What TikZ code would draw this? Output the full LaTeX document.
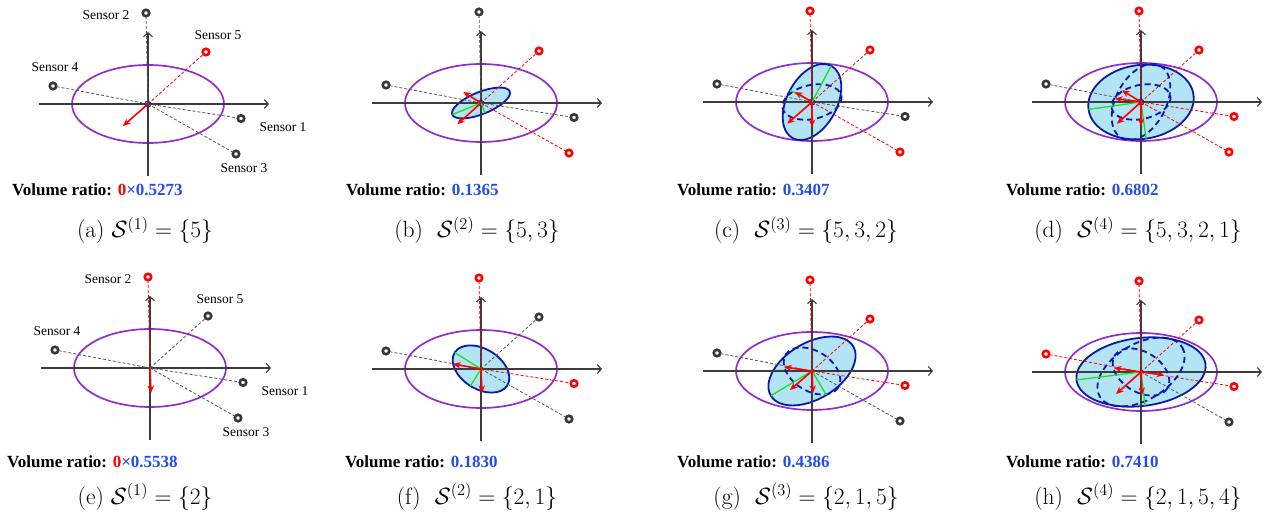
\RequirePackage{fix-cm}
\documentclass[tikz,border=0pt]{standalone}
\usepackage{fontspec}
\newfontfamily\tnr{Liberation Serif}
\usetikzlibrary{arrows.meta,calc}
\definecolor{purp}{RGB}{145,45,205}
\definecolor{axgray}{RGB}{60,60,60}
\definecolor{sgray}{RGB}{55,55,55}
\definecolor{sred}{RGB}{255,0,0}
\definecolor{dblue}{RGB}{10,25,170}
\definecolor{lblue}{RGB}{178,228,246}
\definecolor{grn}{RGB}{30,225,30}
\definecolor{nblue}{RGB}{35,75,235}
\tikzset{
 purpell/.style={draw=purp, line width=1.7pt},
 axisline/.style={draw=axgray, line width=1.1pt, -{Straight Barb[length=4pt,width=9pt]}},
 sens/.style={circle, line width=2.6pt, fill=white, inner sep=0pt, minimum size=6.5pt},
 gsens/.style={sens, draw=sgray},
 rsens/.style={sens, draw=sred},
 gline/.style={draw=sgray!85, line width=0.8pt, dash pattern=on 3pt off 2pt},
 rline/.style={draw=sred, line width=0.8pt, dash pattern=on 3pt off 2pt},
 fillell/.style={draw=dblue, fill=lblue, line width=1.8pt},
 dashell/.style={draw=dblue, line width=1.8pt, dash pattern=on 6pt off 4pt},
 grnline/.style={draw=grn, line width=1.3pt},
 redarr/.style={draw=sred, line width=1.6pt, -{Stealth[length=7.5pt,width=6.5pt]}},
 oring/.style={circle, draw=dblue, line width=1.1pt, dash pattern=on 2pt off 1pt, minimum size=6pt, inner sep=0pt},
 slabel/.style={font=\tnr\fontsize{13.5}{15}\selectfont, inner sep=0pt},
 vr/.style={font=\tnr\bfseries\fontsize{17}{20}\selectfont, anchor=base west, inner sep=0pt},
 captxt/.style={font=\fontsize{23.5}{28}\selectfont, anchor=base, inner sep=0pt},
}
\newcommand\paxes[6]{%
  \coordinate (#1o) at (0,0);
  \coordinate (#1xl) at (-109,0);
  \coordinate (#1xr) at (121,0);
  \coordinate (#1yb) at (0,72);
  \coordinate (#1yt) at (0,-72);
  \draw[axisline] (#1xl) -- (#1xr);
  \draw[axisline] (#1yb) -- (#1yt);
  \node[#2sens] (#1s1) at (93,14.5) {};
  \node[#3sens] (#1s2) at (-2,-91) {};
  \node[#4sens] (#1s3) at (88,50) {};
  \node[#5sens] (#1s4) at (-95,-18) {};
  \node[#6sens] (#1s5) at (58,-52) {};
  \draw[#2line] (#1o) -- (#1s1);
  \draw[#3line] (#1o) -- (#1s2);
  \draw[#4line] (#1o) -- (#1s3);
  \draw[#5line] (#1o) -- (#1s4);
  \draw[#6line] (#1o) -- (#1s5);
}
\newcommand\slabels[1]{%
  \node[slabel] (#1l1) at (135,23) {Sensor 1};
  \node[slabel] (#1l2) at (-42,-89) {Sensor 2};
  \node[slabel] (#1l3) at (96,64) {Sensor 3};
  \node[slabel] (#1l4) at (-93,-37) {Sensor 4};
  \node[slabel] (#1l5) at (70,-69) {Sensor 5};
}
\begin{document}
\begin{tikzpicture}[x=1pt,y=-1pt]
\useasboundingbox (0,0) rectangle (1267,513);
% ---------- (a)
\begin{scope}[shift={(148,104)}]
  \draw[purpell] (0,0) ellipse [x radius=76, y radius=39];
  \paxes{a}{g}{g}{g}{g}{r}
  \node[oring] (aring) at (ao) {};
  \coordinate (aa1) at (-25,22);
  \draw[redarr] (ao) -- (aa1);
  \slabels{a}
\end{scope}
% ---------- (b)
\begin{scope}[shift={(481,103)}]
  \draw[purpell] (0,0) ellipse [x radius=76, y radius=39];
  \draw[fillell, rotate=22] (0,0) ellipse [x radius=31, y radius=11];
  \paxes{b}{g}{g}{r}{g}{r}
  \node[oring] (bring) at (bo) {};
  \coordinate (bg1) at (-28.7,11.6);
  \coordinate (bg2) at (4.1,10.2);
  \draw[grnline] (bo) -- (bg1);
  \draw[grnline] (bo) -- (bg2);
  \coordinate (ba1) at (-17.7,-11);
  \coordinate (ba2) at (-23.7,21.3);
  \draw[redarr] (bo) -- (ba1);
  \draw[redarr] (bo) -- (ba2);
\end{scope}
% ---------- (c)
\begin{scope}[shift={(812,102)}]
  \draw[purpell] (0,0) ellipse [x radius=76, y radius=39];
  \draw[fillell, rotate=62] (0,0) ellipse [x radius=41, y radius=25];
  \paxes{c}{g}{r}{r}{g}{r}
  \draw[dashell, rotate=12] (0,0) ellipse [x radius=30, y radius=17];
  \node[oring] (cring) at (co) {};
  \coordinate (cg1) at (19.2,-36.2);
  \coordinate (cg2) at (-22.1,-11.7);
  \draw[grnline] (co) -- (cg1);
  \draw[grnline] (co) -- (cg2);
  \coordinate (ca1) at (-17,-10);
  \coordinate (ca2) at (-24.7,21.7);
  \coordinate (ca3) at (0,25);
  \draw[redarr] (co) -- (ca1);
  \draw[redarr] (co) -- (ca2);
  \draw[redarr] (co) -- (ca3);
\end{scope}
% ---------- (d)
\begin{scope}[shift={(1141,102)}]
  \draw[purpell] (0,0) ellipse [x radius=76, y radius=39];
  \draw[fillell, rotate=8] (0,0) ellipse [x radius=53, y radius=37];
  \paxes{d}{r}{r}{r}{g}{r}
  \draw[dashell, rotate=62] (0,0) ellipse [x radius=41, y radius=25];
  \draw[dashell, rotate=12] (0,0) ellipse [x radius=30, y radius=17];
  \node[oring] (dring) at (do) {};
  \coordinate (dg1) at (-52.5,7.4);
  \coordinate (dg2) at (5.1,36.6);
  \draw[grnline] (do) -- (dg1);
  \draw[grnline] (do) -- (dg2);
  \coordinate (da1) at (-19,-11.7);
  \coordinate (da2) at (-26,-3.3);
  \coordinate (da3) at (-24,21.7);
  \coordinate (da4) at (0,24);
  \draw[redarr] (do) -- (da1);
  \draw[redarr] (do) -- (da2);
  \draw[redarr] (do) -- (da3);
  \draw[redarr] (do) -- (da4);
\end{scope}
% ---------- (e)
\begin{scope}[shift={(150,368)}]
  \draw[purpell] (0,0) ellipse [x radius=76, y radius=39];
  \paxes{e}{g}{r}{g}{g}{g}
  \coordinate (ea1) at (1,25);
  \draw[redarr] (eo) -- (ea1);
  \slabels{e}
\end{scope}
% ---------- (f)
\begin{scope}[shift={(481,369)}]
  \draw[purpell] (0,0) ellipse [x radius=76, y radius=39];
  \draw[fillell, rotate=-32] (0,0) ellipse [x radius=31, y radius=20];
  \paxes{f}{r}{r}{g}{g}{g}
  \coordinate (fg1) at (-26.3,-16.4);
  \coordinate (fg2) at (-10.6,17.0);
  \draw[grnline] (fo) -- (fg1);
  \draw[grnline] (fo) -- (fg2);
  \coordinate (fa1) at (-28,-5);
  \coordinate (fa2) at (1,24);
  \draw[redarr] (fo) -- (fa1);
  \draw[redarr] (fo) -- (fa2);
\end{scope}
% ---------- (g)
\begin{scope}[shift={(812,371)}]
  \draw[purpell] (0,0) ellipse [x radius=76, y radius=39];
  \draw[fillell, rotate=31] (0,0) ellipse [x radius=48, y radius=28];
  \paxes{g}{r}{r}{g}{g}{r}
  \draw[dashell, rotate=-32] (0,0) ellipse [x radius=31, y radius=20];
  \coordinate (gg1) at (-41.1,24.7);
  \coordinate (gg2) at (14.4,24.0);
  \draw[grnline] (go) -- (gg1);
  \draw[grnline] (go) -- (gg2);
  \coordinate (ga1) at (-28,-4);
  \coordinate (ga2) at (-22,19);
  \coordinate (ga3) at (1,22);
  \draw[redarr] (go) -- (ga1);
  \draw[redarr] (go) -- (ga2);
  \draw[redarr] (go) -- (ga3);
\end{scope}
% ---------- (h)
\begin{scope}[shift={(1141,372)}]
  \draw[purpell] (0,0) ellipse [x radius=76, y radius=39];
  \draw[fillell, rotate=7] (0,0) ellipse [x radius=65, y radius=34];
  \paxes{h}{r}{r}{g}{r}{r}
  \draw[dashell, rotate=31] (0,0) ellipse [x radius=48, y radius=28];
  \draw[dashell, rotate=-32] (0,0) ellipse [x radius=31, y radius=20];
  \coordinate (hg1) at (-64.5,7.9);
  \coordinate (hg2) at (4.1,33.7);
  \draw[grnline] (ho) -- (hg1);
  \draw[grnline] (ho) -- (hg2);
  \coordinate (ha1) at (-27,-4);
  \coordinate (ha2) at (23,3);
  \coordinate (ha3) at (-25,22);
  \coordinate (ha4) at (1,23);
  \draw[redarr] (ho) -- (ha1);
  \draw[redarr] (ho) -- (ha2);
  \draw[redarr] (ho) -- (ha3);
  \draw[redarr] (ho) -- (ha4);
\end{scope}
% ---------- volume ratio texts
\node[vr] (vra) at (12,196) {Volume ratio: \textcolor{sred}{0}\textcolor{nblue}{×0.5273}};
\node[vr] (vrb) at (346,196) {Volume ratio: \textcolor{nblue}{0.1365}};
\node[vr] (vrc) at (677,196) {Volume ratio: \textcolor{nblue}{0.3407}};
\node[vr] (vrd) at (1006,196) {Volume ratio: \textcolor{nblue}{0.6802}};
\node[vr] (vre) at (7,467) {Volume ratio: \textcolor{sred}{0}\textcolor{nblue}{×0.5538}};
\node[vr] (vrf) at (345,467) {Volume ratio: \textcolor{nblue}{0.1830}};
\node[vr] (vrg) at (677,467) {Volume ratio: \textcolor{nblue}{0.4386}};
\node[vr] (vrh) at (1006,467) {Volume ratio: \textcolor{nblue}{0.7410}};
% ---------- captions
\node[captxt] (capa) at (145,238) {(a) $\mathcal{S}^{(1)}=\{5\}$};
\node[captxt] (capb) at (477,238) {(b)\ \ $\mathcal{S}^{(2)}=\{5,3\}$};
\node[captxt] (capc) at (806,238) {(c)\ \ $\mathcal{S}^{(3)}=\{5,3,2\}$};
\node[captxt] (capd) at (1138,238) {(d)\ \ $\mathcal{S}^{(4)}=\{5,3,2,1\}$};
\node[captxt] (cape) at (145,504) {(e) $\mathcal{S}^{(1)}=\{2\}$};
\node[captxt] (capf) at (477,504) {(f)\ \ $\mathcal{S}^{(2)}=\{2,1\}$};
\node[captxt] (capg) at (806,504) {(g)\ \ $\mathcal{S}^{(3)}=\{2,1,5\}$};
\node[captxt] (caph) at (1138,504) {(h)\ \ $\mathcal{S}^{(4)}=\{2,1,5,4\}$};
\end{tikzpicture}
\end{document}
